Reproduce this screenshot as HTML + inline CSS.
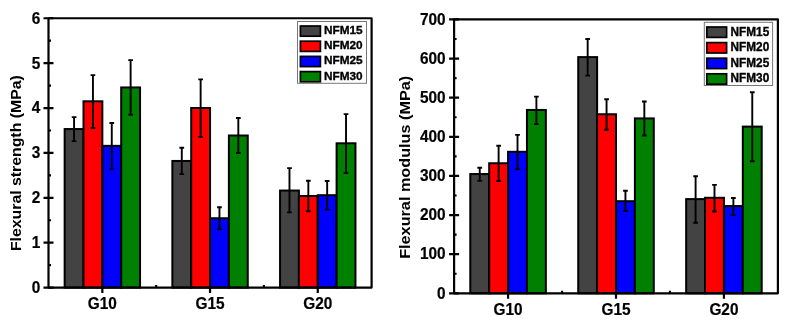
<!DOCTYPE html>
<html><head><meta charset="utf-8"><style>
html,body{margin:0;padding:0;background:#fff;}
body{width:791px;height:323px;overflow:hidden;}
svg{display:block;will-change:transform;}
text{font-family:"Liberation Sans", sans-serif;font-weight:bold;fill:#000;}
</style></head><body>
<svg width="791" height="323" viewBox="0 0 791 323">
<rect width="791" height="323" fill="#fff"/>
<rect x="64.66" y="129.05" width="18.85" height="158.55" fill="#434343" stroke="#000" stroke-width="2.0"/>
<rect x="83.50" y="101.30" width="18.85" height="186.30" fill="#ff0000" stroke="#000" stroke-width="2.0"/>
<rect x="102.35" y="145.85" width="18.85" height="141.75" fill="#0000ff" stroke="#000" stroke-width="2.0"/>
<rect x="121.20" y="87.45" width="18.85" height="200.15" fill="#008000" stroke="#000" stroke-width="2.0"/>
<rect x="172.36" y="160.95" width="18.85" height="126.65" fill="#434343" stroke="#000" stroke-width="2.0"/>
<rect x="191.20" y="108.00" width="18.85" height="179.60" fill="#ff0000" stroke="#000" stroke-width="2.0"/>
<rect x="210.05" y="218.25" width="18.85" height="69.35" fill="#0000ff" stroke="#000" stroke-width="2.0"/>
<rect x="228.90" y="135.50" width="18.85" height="152.10" fill="#008000" stroke="#000" stroke-width="2.0"/>
<rect x="280.06" y="190.55" width="18.85" height="97.05" fill="#434343" stroke="#000" stroke-width="2.0"/>
<rect x="298.90" y="196.00" width="18.85" height="91.60" fill="#ff0000" stroke="#000" stroke-width="2.0"/>
<rect x="317.75" y="195.20" width="18.85" height="92.40" fill="#0000ff" stroke="#000" stroke-width="2.0"/>
<rect x="336.60" y="143.30" width="18.85" height="144.30" fill="#008000" stroke="#000" stroke-width="2.0"/>
<path d="M74.08 117.10V141.10M71.73 117.10H76.43M71.73 141.10H76.43" stroke="#000" stroke-width="1.9" fill="none"/>
<path d="M92.93 75.10V128.00M90.58 75.10H95.28M90.58 128.00H95.28" stroke="#000" stroke-width="1.9" fill="none"/>
<path d="M111.77 123.00V168.90M109.42 123.00H114.12M109.42 168.90H114.12" stroke="#000" stroke-width="1.9" fill="none"/>
<path d="M130.62 60.10V114.80M128.27 60.10H132.97M128.27 114.80H132.97" stroke="#000" stroke-width="1.9" fill="none"/>
<path d="M181.78 147.80V174.10M179.43 147.80H184.13M179.43 174.10H184.13" stroke="#000" stroke-width="1.9" fill="none"/>
<path d="M200.63 79.40V136.90M198.28 79.40H202.98M198.28 136.90H202.98" stroke="#000" stroke-width="1.9" fill="none"/>
<path d="M219.47 207.30V229.40M217.12 207.30H221.82M217.12 229.40H221.82" stroke="#000" stroke-width="1.9" fill="none"/>
<path d="M238.32 118.00V153.00M235.97 118.00H240.67M235.97 153.00H240.67" stroke="#000" stroke-width="1.9" fill="none"/>
<path d="M289.48 168.10V212.40M287.13 168.10H291.83M287.13 212.40H291.83" stroke="#000" stroke-width="1.9" fill="none"/>
<path d="M308.33 180.80V211.40M305.98 180.80H310.68M305.98 211.40H310.68" stroke="#000" stroke-width="1.9" fill="none"/>
<path d="M327.17 181.00V209.60M324.82 181.00H329.52M324.82 209.60H329.52" stroke="#000" stroke-width="1.9" fill="none"/>
<path d="M346.02 114.10V173.10M343.67 114.10H348.37M343.67 173.10H348.37" stroke="#000" stroke-width="1.9" fill="none"/>
<path d="M48.50 18.25H371.60V287.60H48.50Z" stroke="#000" stroke-width="2.2" fill="none" stroke-linejoin="round"/>
<path d="M43.50 287.60H53.50M48.50 265.15H51.00M43.50 242.71H53.50M48.50 220.26H51.00M43.50 197.82H53.50M48.50 175.37H51.00M43.50 152.93H53.50M48.50 130.48H51.00M43.50 108.03H53.50M48.50 85.59H51.00M43.50 63.14H53.50M48.50 40.70H51.00M43.50 18.25H53.50M102.35 287.60V293.00M156.20 287.60V285.10M210.05 287.60V293.00M263.90 287.60V285.10M317.75 287.60V293.00" stroke="#000" stroke-width="2.2" fill="none"/>
<text transform="translate(40.20,293.00) scale(1,1.03)" text-anchor="end" font-size="15.4" stroke="#000" stroke-width="0.2">0</text>
<text transform="translate(40.20,248.11) scale(1,1.03)" text-anchor="end" font-size="15.4" stroke="#000" stroke-width="0.2">1</text>
<text transform="translate(40.20,203.22) scale(1,1.03)" text-anchor="end" font-size="15.4" stroke="#000" stroke-width="0.2">2</text>
<text transform="translate(40.20,158.33) scale(1,1.03)" text-anchor="end" font-size="15.4" stroke="#000" stroke-width="0.2">3</text>
<text transform="translate(40.20,113.43) scale(1,1.03)" text-anchor="end" font-size="15.4" stroke="#000" stroke-width="0.2">4</text>
<text transform="translate(40.20,68.54) scale(1,1.03)" text-anchor="end" font-size="15.4" stroke="#000" stroke-width="0.2">5</text>
<text transform="translate(40.20,23.65) scale(1,1.03)" text-anchor="end" font-size="15.4" stroke="#000" stroke-width="0.2">6</text>
<text transform="translate(102.35,308.60) scale(1,1.03)" text-anchor="middle" font-size="15.4" stroke="#000" stroke-width="0.2">G10</text>
<text transform="translate(210.05,308.60) scale(1,1.03)" text-anchor="middle" font-size="15.4" stroke="#000" stroke-width="0.2">G15</text>
<text transform="translate(317.75,308.60) scale(1,1.03)" text-anchor="middle" font-size="15.4" stroke="#000" stroke-width="0.2">G20</text>
<text transform="translate(20.70,163.15) rotate(-90) scale(1.1,1)" text-anchor="middle" font-size="14.4">Flexural strength (MPa)</text>
<rect x="297.50" y="21.50" width="69.00" height="61.80" fill="#fff" stroke="#777" stroke-width="1"/>
<rect x="300.40" y="26.00" width="20.00" height="10.20" fill="#434343" stroke="#000" stroke-width="1.7"/>
<text transform="translate(324.00,33.90) scale(1,1.0)" font-size="11.8" stroke="#000" stroke-width="0.35">NFM15</text>
<rect x="300.40" y="41.20" width="20.00" height="10.20" fill="#ff0000" stroke="#000" stroke-width="1.7"/>
<text transform="translate(324.00,49.10) scale(1,1.0)" font-size="11.8" stroke="#000" stroke-width="0.35">NFM20</text>
<rect x="300.40" y="56.40" width="20.00" height="10.20" fill="#0000ff" stroke="#000" stroke-width="1.7"/>
<text transform="translate(324.00,64.30) scale(1,1.0)" font-size="11.8" stroke="#000" stroke-width="0.35">NFM25</text>
<rect x="300.40" y="71.60" width="20.00" height="10.20" fill="#008000" stroke="#000" stroke-width="1.7"/>
<text transform="translate(324.00,79.50) scale(1,1.0)" font-size="11.8" stroke="#000" stroke-width="0.35">NFM30</text>
<rect x="470.29" y="174.05" width="18.89" height="119.25" fill="#434343" stroke="#000" stroke-width="2.0"/>
<rect x="489.18" y="163.25" width="18.89" height="130.05" fill="#ff0000" stroke="#000" stroke-width="2.0"/>
<rect x="508.07" y="151.80" width="18.89" height="141.50" fill="#0000ff" stroke="#000" stroke-width="2.0"/>
<rect x="526.96" y="109.95" width="18.89" height="183.35" fill="#008000" stroke="#000" stroke-width="2.0"/>
<rect x="578.22" y="57.10" width="18.89" height="236.20" fill="#434343" stroke="#000" stroke-width="2.0"/>
<rect x="597.11" y="114.25" width="18.89" height="179.05" fill="#ff0000" stroke="#000" stroke-width="2.0"/>
<rect x="616.00" y="201.20" width="18.89" height="92.10" fill="#0000ff" stroke="#000" stroke-width="2.0"/>
<rect x="634.89" y="118.40" width="18.89" height="174.90" fill="#008000" stroke="#000" stroke-width="2.0"/>
<rect x="686.16" y="199.10" width="18.89" height="94.20" fill="#434343" stroke="#000" stroke-width="2.0"/>
<rect x="705.05" y="197.80" width="18.89" height="95.50" fill="#ff0000" stroke="#000" stroke-width="2.0"/>
<rect x="723.93" y="206.05" width="18.89" height="87.25" fill="#0000ff" stroke="#000" stroke-width="2.0"/>
<rect x="742.82" y="126.60" width="18.89" height="166.70" fill="#008000" stroke="#000" stroke-width="2.0"/>
<path d="M479.73 167.70V180.90M477.38 167.70H482.08M477.38 180.90H482.08" stroke="#000" stroke-width="1.9" fill="none"/>
<path d="M498.62 145.80V181.10M496.27 145.80H500.97M496.27 181.10H500.97" stroke="#000" stroke-width="1.9" fill="none"/>
<path d="M517.51 134.90V169.20M515.16 134.90H519.86M515.16 169.20H519.86" stroke="#000" stroke-width="1.9" fill="none"/>
<path d="M536.40 96.60V124.10M534.05 96.60H538.75M534.05 124.10H538.75" stroke="#000" stroke-width="1.9" fill="none"/>
<path d="M587.67 39.00V75.60M585.32 39.00H590.02M585.32 75.60H590.02" stroke="#000" stroke-width="1.9" fill="none"/>
<path d="M606.56 99.30V129.70M604.21 99.30H608.91M604.21 129.70H608.91" stroke="#000" stroke-width="1.9" fill="none"/>
<path d="M625.44 190.80V211.00M623.09 190.80H627.79M623.09 211.00H627.79" stroke="#000" stroke-width="1.9" fill="none"/>
<path d="M644.33 101.50V135.50M641.98 101.50H646.68M641.98 135.50H646.68" stroke="#000" stroke-width="1.9" fill="none"/>
<path d="M695.60 176.20V222.80M693.25 176.20H697.95M693.25 222.80H697.95" stroke="#000" stroke-width="1.9" fill="none"/>
<path d="M714.49 184.90V211.50M712.14 184.90H716.84M712.14 211.50H716.84" stroke="#000" stroke-width="1.9" fill="none"/>
<path d="M733.38 198.00V215.10M731.03 198.00H735.73M731.03 215.10H735.73" stroke="#000" stroke-width="1.9" fill="none"/>
<path d="M752.27 92.30V161.20M749.92 92.30H754.62M749.92 161.20H754.62" stroke="#000" stroke-width="1.9" fill="none"/>
<path d="M454.10 19.45H777.90V293.30H454.10Z" stroke="#000" stroke-width="2.2" fill="none" stroke-linejoin="round"/>
<path d="M449.10 293.30H459.10M454.10 273.74H456.60M449.10 254.18H459.10M454.10 234.62H456.60M449.10 215.06H459.10M454.10 195.50H456.60M449.10 175.94H459.10M454.10 156.38H456.60M449.10 136.81H459.10M454.10 117.25H456.60M449.10 97.69H459.10M454.10 78.13H456.60M449.10 58.57H459.10M454.10 39.01H456.60M449.10 19.45H459.10M508.07 293.30V298.70M562.03 293.30V290.80M616.00 293.30V298.70M669.97 293.30V290.80M723.93 293.30V298.70" stroke="#000" stroke-width="2.2" fill="none"/>
<text transform="translate(445.60,298.50) scale(1,1.03)" text-anchor="end" font-size="15.4" stroke="#000" stroke-width="0.2">0</text>
<text transform="translate(445.60,259.38) scale(1,1.03)" text-anchor="end" font-size="15.4" stroke="#000" stroke-width="0.2">100</text>
<text transform="translate(445.60,220.26) scale(1,1.03)" text-anchor="end" font-size="15.4" stroke="#000" stroke-width="0.2">200</text>
<text transform="translate(445.60,181.14) scale(1,1.03)" text-anchor="end" font-size="15.4" stroke="#000" stroke-width="0.2">300</text>
<text transform="translate(445.60,142.01) scale(1,1.03)" text-anchor="end" font-size="15.4" stroke="#000" stroke-width="0.2">400</text>
<text transform="translate(445.60,102.89) scale(1,1.03)" text-anchor="end" font-size="15.4" stroke="#000" stroke-width="0.2">500</text>
<text transform="translate(445.60,63.77) scale(1,1.03)" text-anchor="end" font-size="15.4" stroke="#000" stroke-width="0.2">600</text>
<text transform="translate(445.60,24.65) scale(1,1.03)" text-anchor="end" font-size="15.4" stroke="#000" stroke-width="0.2">700</text>
<text transform="translate(508.07,314.60) scale(1,1.03)" text-anchor="middle" font-size="15.4" stroke="#000" stroke-width="0.2">G10</text>
<text transform="translate(616.00,314.60) scale(1,1.03)" text-anchor="middle" font-size="15.4" stroke="#000" stroke-width="0.2">G15</text>
<text transform="translate(723.93,314.60) scale(1,1.03)" text-anchor="middle" font-size="15.4" stroke="#000" stroke-width="0.2">G20</text>
<text transform="translate(409.60,167.30) rotate(-90) scale(1.09,1)" text-anchor="middle" font-size="14.9">Flexural modulus (MPa)</text>
<rect x="704.30" y="22.30" width="68.30" height="63.20" fill="#fff" stroke="#777" stroke-width="1"/>
<rect x="706.80" y="27.00" width="19.80" height="10.40" fill="#434343" stroke="#000" stroke-width="1.7"/>
<text transform="translate(730.60,35.50) scale(1,1.07)" font-size="11.8" stroke="#000" stroke-width="0.35">NFM15</text>
<rect x="706.80" y="42.60" width="19.80" height="10.40" fill="#ff0000" stroke="#000" stroke-width="1.7"/>
<text transform="translate(730.60,51.10) scale(1,1.07)" font-size="11.8" stroke="#000" stroke-width="0.35">NFM20</text>
<rect x="706.80" y="58.20" width="19.80" height="10.40" fill="#0000ff" stroke="#000" stroke-width="1.7"/>
<text transform="translate(730.60,66.70) scale(1,1.07)" font-size="11.8" stroke="#000" stroke-width="0.35">NFM25</text>
<rect x="706.80" y="73.80" width="19.80" height="10.40" fill="#008000" stroke="#000" stroke-width="1.7"/>
<text transform="translate(730.60,82.30) scale(1,1.07)" font-size="11.8" stroke="#000" stroke-width="0.35">NFM30</text>
</svg>
</body></html>
